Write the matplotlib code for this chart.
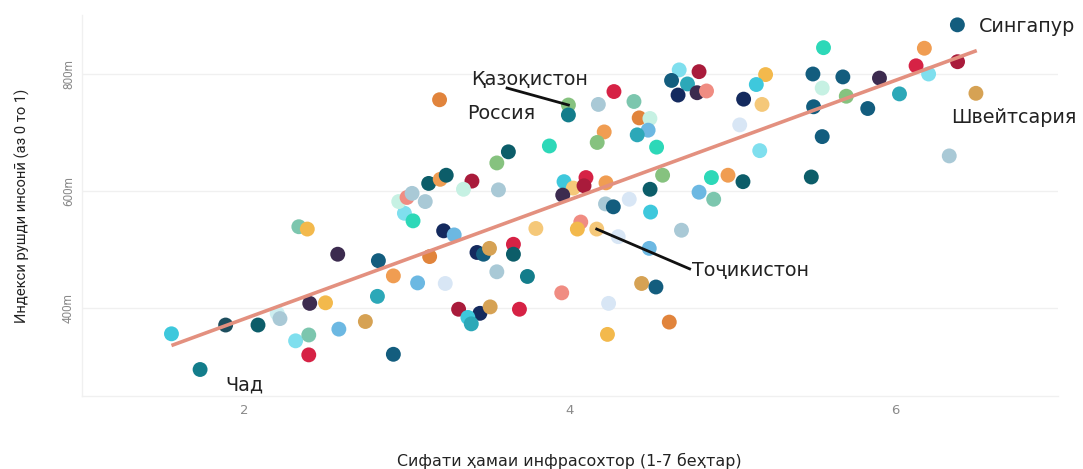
import matplotlib
matplotlib.use("Agg")
import matplotlib.pyplot as plt

# ---- data ----
infra = [1.55, 1.726, 1.883, 2.082, 2.20, 2.217, 2.313, 2.394, 2.394, 2.40,
         2.497, 2.579, 2.333, 2.385, 2.572, 2.822, 2.914, 2.816, 2.742, 2.914,
         2.982, 3.035, 2.947, 2.998, 3.029, 3.110, 3.131, 3.202, 3.239, 3.397,
         3.345, 3.56, 3.55, 3.621, 3.873, 3.198, 3.99, 3.99, 3.223, 3.288,
         3.137, 3.428, 3.468, 3.505, 3.652, 3.652, 3.063, 3.233, 3.55, 3.738,
         3.949, 3.315, 3.446, 3.509, 3.689, 3.372, 3.393, 3.79, 3.963, 4.02,
         3.955, 4.098, 4.086, 4.221, 4.27, 4.174, 4.393, 4.425, 4.491, 4.48,
         4.413, 4.21, 4.167, 4.532, 4.671, 4.793, 4.624, 4.722, 4.664, 4.781,
         4.839, 5.202, 5.145, 5.067, 5.18, 5.043, 5.166, 4.569, 4.869, 4.971,
         5.063, 5.483, 4.492, 4.793, 4.883, 4.364, 4.218, 4.266, 4.495, 4.066,
         4.045, 4.164, 4.296, 4.685, 4.487, 4.44, 4.528, 4.237, 4.61, 4.23,
         6.381, 5.558, 6.178, 6.127, 6.382, 5.493, 5.677, 5.902, 6.204, 5.55,
         5.698, 6.025, 6.495, 5.497, 5.83, 5.55, 6.331]
hdi = [0.356, 0.295, 0.371, 0.371, 0.391, 0.382, 0.344, 0.354, 0.320, 0.408,
       0.409, 0.364, 0.539, 0.535, 0.492, 0.481, 0.455, 0.420, 0.377, 0.321,
       0.562, 0.549, 0.582, 0.589, 0.596, 0.582, 0.613, 0.620, 0.627, 0.617,
       0.603, 0.602, 0.648, 0.667, 0.677, 0.756, 0.747, 0.730, 0.532, 0.525,
       0.488, 0.495, 0.492, 0.502, 0.509, 0.492, 0.443, 0.442, 0.462, 0.454,
       0.426, 0.398, 0.391, 0.402, 0.398, 0.384, 0.373, 0.536, 0.616, 0.605,
       0.593, 0.623, 0.609, 0.614, 0.770, 0.748, 0.753, 0.725, 0.724, 0.704,
       0.696, 0.701, 0.683, 0.675, 0.807, 0.804, 0.789, 0.783, 0.764, 0.768,
       0.771, 0.799, 0.782, 0.757, 0.748, 0.713, 0.669, 0.627, 0.623, 0.627,
       0.616, 0.624, 0.603, 0.598, 0.586, 0.586, 0.578, 0.573, 0.564, 0.547,
       0.535, 0.535, 0.522, 0.533, 0.502, 0.442, 0.436, 0.408, 0.376, 0.355,
       0.884, 0.845, 0.844, 0.814, 0.821, 0.800, 0.795, 0.793, 0.800, 0.776,
       0.762, 0.766, 0.767, 0.744, 0.741, 0.693, 0.660]

trend_x = [1.55, 6.50]
trend_y = [0.336, 0.840]

x_ticks = [2, 4, 6]
y_ticks = [0.4, 0.6, 0.8]
y_tick_labels = ["400m", "600m", "800m"]

labels = ["Сингапур", "Швейтсария", "Қазоқистон", "Россия", "Тоҷикистон", "Чад"]
label_x = [6.515, 6.344, 3.39, 3.37, 4.748, 1.88]
label_y = [0.881, 0.7265, 0.790, 0.733, 0.465, 0.268]
# annotated points (line targets) for Қазоқистон and Тоҷикистон
kaz_point = (3.99, 0.747)
kaz_text_end = (3.613, 0.776)
taj_point = (4.164, 0.535)
taj_text_end = (4.735, 0.467)

xlabel = "Сифати ҳамаи инфрасохтор (1-7 беҳтар)"
ylabel = "Индекси рушди инсонӣ (аз 0 то 1)"

# ---- styles ----
C = {
    "dblue": "#135d7e", "navy": "#142a5e", "dteal": "#0c5d69", "teal": "#137d8b",
    "tcyan": "#2ca8b8", "cyan": "#3ec8dc", "lcyan": "#7fdfee", "turq": "#2dd8b8",
    "mint": "#7cc6ae", "lmint": "#c6f1e3", "green": "#86c27f", "yellow": "#f3b94c",
    "lyellow": "#f5c879", "orange": "#f09d52", "dorange": "#e1843c", "tan": "#d6a254",
    "salmon": "#f08c82", "crimson": "#d62245", "dcrimson": "#a91b3b", "purple": "#3c2b4f",
    "lblue": "#6cb8e2", "lbgrey": "#a9c9d6", "vlblue": "#d8e6f5", "slate": "#1d4e5e",
    "vlmint": "#cdeef0",
}
color_keys = [
    "cyan", "teal", "slate", "dteal", "vlmint", "lbgrey", "lcyan", "mint", "crimson", "purple",
    "yellow", "lblue", "mint", "yellow", "purple", "dblue", "orange", "tcyan", "tan", "dblue",
    "lcyan", "turq", "lmint", "salmon", "lbgrey", "lbgrey", "dteal", "orange", "dteal", "dcrimson",
    "lmint", "lbgrey", "green", "dteal", "turq", "dorange", "green", "teal", "navy", "lblue",
    "dorange", "navy", "dblue", "tan", "crimson", "dteal", "lblue", "vlblue", "lbgrey", "teal",
    "salmon", "dcrimson", "navy", "tan", "crimson", "cyan", "tcyan", "lyellow", "cyan", "lyellow",
    "purple", "crimson", "dcrimson", "orange", "crimson", "lbgrey", "mint", "dorange", "lmint", "lblue",
    "tcyan", "orange", "green", "turq", "lcyan", "dcrimson", "dblue", "tcyan", "navy", "purple",
    "salmon", "yellow", "cyan", "navy", "lyellow", "vlblue", "lcyan", "green", "turq", "orange",
    "dteal", "dteal", "dteal", "lblue", "mint", "vlblue", "lbgrey", "dblue", "cyan", "salmon",
    "yellow", "lyellow", "vlblue", "lbgrey", "lblue", "tan", "dblue", "vlblue", "dorange", "yellow",
    "dblue", "turq", "orange", "crimson", "dcrimson", "dblue", "dblue", "purple", "lcyan", "lmint",
    "green", "tcyan", "tan", "dblue", "dblue", "dblue", "lbgrey",
]
colors = [C[k] for k in color_keys]

plt.rcParams["font.family"] = ["DejaVu Sans"]

fig = plt.figure(figsize=(10.83, 4.69), dpi=100)
ax = fig.add_axes([0.0757, 0.156, 0.9013, 0.811])

ax.set_xlim(1.0, 7.0)
ax.set_ylim(0.25, 0.90)

ax.scatter(infra, hdi, s=115, c=colors, linewidths=0, zorder=3)
ax.plot(trend_x, trend_y, color="#e3907f", lw=2.6, zorder=4, solid_capstyle="butt")

# gridlines / frame
ax.set_yticks(y_ticks)
ax.set_yticklabels(y_tick_labels, rotation=90, va="center", color="#8a8a8a",
                   fontsize=8.5, family=["Roboto", "DejaVu Sans"])
ax.set_xticks(x_ticks)
ax.set_xticklabels([str(t) for t in x_ticks], color="#8a8a8a", fontsize=9.5)
ax.grid(axis="y", color="#f0f0f0", lw=1.0, zorder=0)
ax.tick_params(axis="x", length=0, pad=6)
ax.tick_params(axis="y", length=0, pad=5)
for side in ["top", "right"]:
    ax.spines[side].set_visible(False)
for side in ["left", "bottom"]:
    ax.spines[side].set_color("#f0f0f0")
    ax.spines[side].set_linewidth(1.0)

fig.text(0.526, 1 - 461 / 469, xlabel, fontsize=11.4, color="#222222",
         ha="center", va="center")
fig.text(22 / 1083, 1 - 206 / 469, ylabel, fontsize=10.6, color="#222222",
         ha="center", va="center", rotation=90, family=["Roboto", "DejaVu Sans"])

# annotations
for t, lx, ly in zip(labels, label_x, label_y):
    ax.text(lx, ly, t, fontsize=13.8, color="#222222", ha="left", va="center", zorder=6)

ax.plot([kaz_text_end[0], kaz_point[0]], [kaz_text_end[1], kaz_point[1]],
        color="#111111", lw=2.0, zorder=5)
ax.plot([taj_point[0], taj_text_end[0]], [taj_point[1], taj_text_end[1]],
        color="#111111", lw=2.0, zorder=5)

fig.savefig("out.png", dpi=100, facecolor="white")
